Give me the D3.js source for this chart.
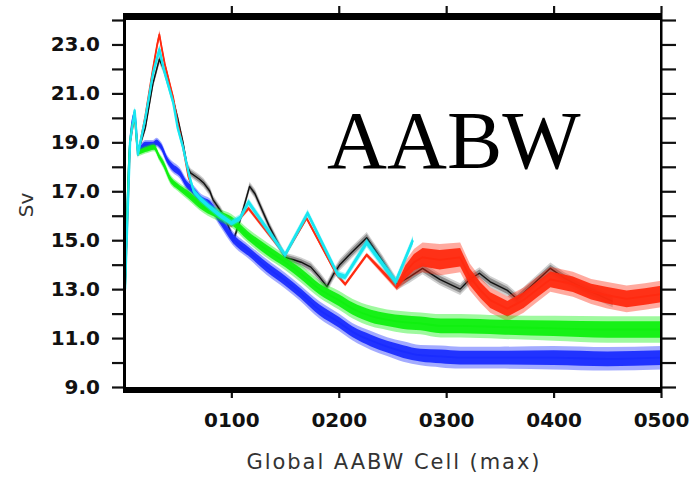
<!DOCTYPE html>
<html><head><meta charset="utf-8">
<script src="https://cdn.jsdelivr.net/npm/d3@7/dist/d3.min.js"></script>
<style>body{margin:0;background:#fff;}svg{display:block;}</style>
</head><body>
<svg id="c" width="696" height="477"></svg>
<script>
// ---- data ----
const yTickValues = [9,10,11,12,13,14,15,16,17,18,19,20,21,22,23,24];
const yLabelValues = [9,11,13,15,17,19,21,23];
const xTickValues = [100,200,300,400,500];

const blackYears  = [1,5.7,10,13,20,27,33,37,46,50,55,59,62,70,74,80,83,90,97,102,108,117,122,135,150,158,165,174,182,189,195,201,212,226,240,254,266,278,294,313,322,331,341,357,366,381,397,410,425,440,455];
const blackValues = [13.0,19.0,20.2,18.6,19.6,21.4,22.4,22.0,20.7,20.0,19.0,18.0,17.75,17.5,17.35,17.0,16.65,16.2,15.6,15.0,15.8,17.2,16.9,15.6,14.3,14.2,14.1,13.9,13.5,13.1,13.6,14.0,14.5,15.1,14.2,13.2,13.5,13.85,13.4,13.0,13.4,13.65,13.3,12.95,12.6,13.2,13.85,13.45,13.1,12.8,12.5];
const blackSpread = [0.05,0.08,0.1,0.1,0.1,0.12,0.12,0.12,0.12,0.12,0.12,0.12,0.12,0.12,0.12,0.12,0.12,0.12,0.12,0.12,0.12,0.12,0.12,0.12,0.12,0.12,0.12,0.14,0.14,0.14,0.14,0.15,0.15,0.15,0.15,0.15,0.15,0.15,0.15,0.15,0.15,0.15,0.15,0.15,0.15,0.15,0.15,0.15,0.15,0.15,0.15];

const redYears  = [1,5.7,10,13,20,27,31,33,35,38,46,50,55,60,65,71,80,90,100,108,116,150,170,198,206,226,254,262,270,278,294,313,322,332,341,357,372,385,397,418,435,450,468,485,500];
const redValues = [13.0,19.0,20.1,18.5,20.1,22.0,23.0,23.4,22.9,22.2,20.8,19.8,18.8,17.6,17.0,16.6,16.3,16.0,15.6,15.9,16.3,14.4,15.9,13.6,13.2,14.4,13.1,13.7,14.1,14.3,14.2,14.3,13.5,12.95,12.55,12.2,12.55,13.0,13.4,13.2,12.9,12.75,12.6,12.7,12.8];
const redSpread = [0.05,0.06,0.08,0.08,0.08,0.1,0.12,0.12,0.12,0.1,0.08,0.06,0.06,0.06,0.06,0.06,0.06,0.06,0.06,0.06,0.06,0.06,0.06,0.06,0.06,0.06,0.1,0.28,0.34,0.38,0.4,0.38,0.34,0.32,0.32,0.32,0.32,0.32,0.32,0.32,0.32,0.34,0.34,0.34,0.34];

const cyanYears  = [1,5.7,10,13,20,27,33,37,46,50,55,61,65,71,80,90,100,108,116,150,171,199,206,226,253,269];
const cyanValues = [13.0,19.0,20.3,18.5,20.0,21.8,22.8,22.0,20.6,19.6,18.8,17.6,17.0,16.7,16.35,16.0,15.7,15.9,16.55,14.4,16.1,13.6,13.5,14.9,13.3,15.0];
const cyanSpread = [0.06,0.08,0.1,0.1,0.1,0.12,0.14,0.12,0.1,0.1,0.1,0.1,0.1,0.1,0.1,0.1,0.1,0.1,0.1,0.1,0.1,0.1,0.1,0.12,0.12,0.12];

const greenYears  = [1,5.7,10,13,20,28,33,37,43,50,59,74,90,100,115,133,150,164,182,200,213,230,245,260,276,295,313,350,400,450,500];
const greenValues = [13.0,19.0,20.0,18.6,18.7,18.8,18.4,18.1,17.5,17.2,16.9,16.35,16.0,15.8,15.2,14.6,14.1,13.65,13.0,12.55,12.2,11.9,11.75,11.65,11.6,11.5,11.5,11.45,11.4,11.35,11.35];
const greenSpread = [0.05,0.06,0.08,0.1,0.1,0.1,0.1,0.12,0.12,0.12,0.14,0.15,0.16,0.17,0.18,0.2,0.2,0.22,0.22,0.24,0.25,0.26,0.26,0.28,0.28,0.3,0.3,0.3,0.32,0.34,0.34];

const blueYears  = [1,5.7,10,13,20,27,30,35,40,45,52,58,64,72,80,90,101,117,133,150,164,182,200,213,230,245,260,276,295,313,350,400,450,500];
const blueValues = [13.0,19.0,20.2,18.7,18.9,18.9,19.0,18.8,18.3,18.0,17.75,17.3,17.05,16.65,16.45,15.8,15.1,14.5,13.9,13.35,12.85,12.15,11.65,11.25,10.9,10.65,10.45,10.3,10.25,10.2,10.2,10.2,10.15,10.2];
const blueSpread = [0.05,0.06,0.08,0.1,0.12,0.12,0.12,0.12,0.12,0.14,0.14,0.14,0.15,0.15,0.16,0.17,0.18,0.18,0.2,0.2,0.2,0.22,0.22,0.22,0.24,0.24,0.26,0.26,0.28,0.28,0.28,0.3,0.3,0.3];

// ---- layout ----
const svg = d3.select("#c");
const x = d3.scaleLinear().domain([1, 500]).range([125, 661]);
const y = d3.scaleLinear().domain([9, 24]).range([387, 20]);

const tickFont = "'DejaVu Sans', sans-serif";

function series(years, values, spread) {
  return years.map((yr, i) => ({x: yr, v: values[i], s: spread[i]}));
}
const black = series(blackYears, blackValues, blackSpread);
const red = series(redYears, redValues, redSpread);
const cyan = series(cyanYears, cyanValues, cyanSpread);
const green = series(greenYears, greenValues, greenSpread);
const blue = series(blueYears, blueValues, blueSpread);

const plot = svg.append("g");
plot.append("clipPath").attr("id","clip").append("rect")
  .attr("x", x(1)).attr("y", y(24)).attr("width", x(500)-x(1)).attr("height", y(9)-y(24));
const g = plot.append("g").attr("clip-path","url(#clip)");

function band(data, k, curve) {
  return d3.area().curve(curve).x(d => x(d.x)).y0(d => y(d.v - d.s*k)).y1(d => y(d.v + d.s*k))(data);
}
function line(data, curve) {
  return d3.line().curve(curve).x(d => x(d.x)).y(d => y(d.v))(data);
}
function draw(data, color, curve, lineWidth, lineColor) {
  g.append("path").attr("d", band(data, 1.6, curve)).attr("fill", color).attr("opacity", 0.4);
  g.append("path").attr("d", band(data, 1.0, curve)).attr("fill", color).attr("opacity", 0.95);
  g.append("path").attr("d", line(data, curve)).attr("fill","none").attr("stroke", lineColor || color)
    .attr("stroke-width", lineWidth).attr("stroke-linejoin","round");
}
const lin = d3.curveLinear, mono = d3.curveMonotoneX;
draw(black, "#8a8a8a", lin, 1.4, "#111");
draw(red, "#ff2a10", lin, 1.8);
draw(blue, "#1a2cff", mono, 1.8);
draw(green, "#10f010", mono, 1.8);
draw(cyan, "#19e6f0", lin, 2.4);

// ---- axes & frame ----
const axL = svg.append("g").attr("transform", `translate(${x(1)},0)`)
  .call(d3.axisLeft(y).tickValues(yTickValues).tickSize(13).tickPadding(12)
    .tickFormat(d => yLabelValues.includes(d) ? d3.format(".1f")(d) : ""));
const axR = svg.append("g").attr("transform", `translate(${x(500)},0)`)
  .call(d3.axisRight(y).tickValues(yTickValues).tickSize(15).tickFormat(""));
const axT = svg.append("g").attr("transform", `translate(0,${y(24)-7})`)
  .call(d3.axisTop(x).tickValues(xTickValues).tickSize(7).tickFormat(""));
const axB = svg.append("g").attr("transform", `translate(0,${y(9)+6})`)
  .call(d3.axisBottom(x).tickValues(xTickValues).tickSize(5).tickPadding(15).tickFormat(d3.format("04d")));

[axL, axR, axT, axB].forEach(a => {
  a.select(".domain").remove();
  a.selectAll(".tick line").attr("stroke", "#111").attr("stroke-width", 2.2);
  a.selectAll("text").attr("font-family", tickFont).attr("font-weight", "bold")
    .attr("font-size", 20).attr("fill", "#111");
});

// frame
svg.append("rect").attr("x", x(1)-1).attr("y", y(24)-7).attr("width", x(500)-x(1)+2).attr("height", 7).attr("fill", "#000");
svg.append("rect").attr("x", x(1)-1).attr("y", y(9)).attr("width", x(500)-x(1)+2).attr("height", 6).attr("fill", "#000");
svg.append("rect").attr("x", x(1)-2).attr("y", y(24)-7).attr("width", 3).attr("height", y(9)-y(24)+13).attr("fill", "#000");
svg.append("rect").attr("x", x(500)-1).attr("y", y(24)-7).attr("width", 2.5).attr("height", y(9)-y(24)+13).attr("fill", "#000");

// titles
svg.append("text").attr("x", 327).attr("y", 168)
  .attr("text-anchor","start").attr("font-family","'Liberation Serif', 'Times New Roman', serif")
  .attr("font-size", 83).attr("fill","#000").text("AABW");

svg.append("text").attr("x", 393).attr("y", 469)
  .attr("text-anchor","middle").attr("font-family", tickFont)
  .attr("font-size", 21).attr("fill","#333")
  .attr("textLength", 293).attr("lengthAdjust","spacing")
  .text("Global AABW Cell (max)");

svg.append("text").attr("transform","translate(33,205) rotate(-90)")
  .attr("text-anchor","middle").attr("font-family", tickFont)
  .attr("font-size", 20).attr("fill","#333").text("Sv");
</script>
</body></html>
